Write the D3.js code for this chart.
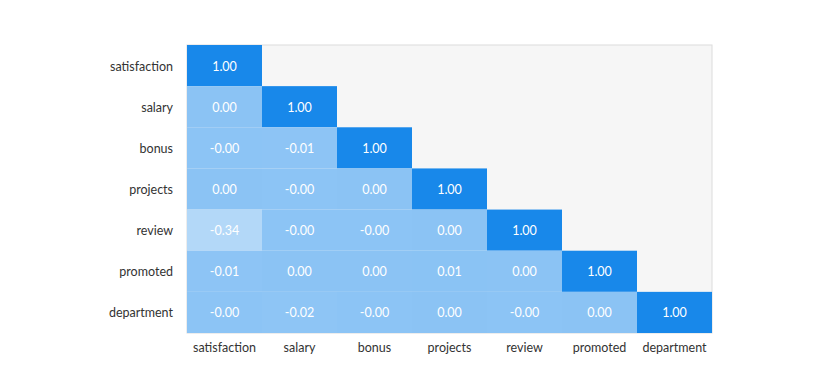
<!DOCTYPE html>
<html><head><meta charset="utf-8">
<script src="https://cdn.jsdelivr.net/npm/d3@7"></script>
<style>
html,body{margin:0;padding:0;background:#fff;}
svg{display:block;font-family:Lato,"Noto Sans",sans-serif;}
</style></head>
<body><svg id="c" width="816" height="375"></svg>
<script>
const variables = ["satisfaction","salary","bonus","projects","review","promoted","department"];
// lower-triangle correlation rows (row i has i+1 values)
const corrRows = [
  [1.00],
  [0.002, 1.00],
  [-0.002, -0.01, 1.00],
  [0.002, -0.002, 0.002, 1.00],
  [-0.34, -0.002, -0.002, 0.002, 1.00],
  [-0.01, 0.003, 0.002, 0.01, 0.002, 1.00],
  [-0.002, -0.02, -0.002, 0.002, -0.002, 0.002, 1.00]
];
const colorDomain = [-1, 1];

const svg = d3.select("#c");
const m = {left:187, top:45, right:816-712, bottom:375-333};
const W = 816 - m.left - m.right, H = 375 - m.top - m.bottom;
const g = svg.append("g").attr("transform",`translate(${m.left},${m.top})`);

const x = d3.scaleBand().domain(variables).range([0,W]);
const y = d3.scaleBand().domain(variables).range([0,H]);
const color = d3.scaleLinear().domain(colorDomain).range(["#ffffff","#1888ea"]).interpolate(d3.interpolateRgb);

g.append("rect").attr("width",W).attr("height",H).attr("fill","#f6f6f6").attr("stroke","#dcdcdc").attr("stroke-width",1);

const cells = [];
corrRows.forEach((row,i)=>row.forEach((v,j)=>cells.push({r:variables[i],c:variables[j],v})));

g.selectAll("rect.cell").data(cells).join("rect").attr("class","cell")
  .attr("x",d=>x(d.c)).attr("y",d=>y(d.r))
  .attr("width",x.bandwidth()).attr("height",y.bandwidth())
  .attr("fill",d=>color(d.v));

g.selectAll("text.val").data(cells).join("text").attr("class","val")
  .attr("x",d=>x(d.c)+x.bandwidth()/2).attr("y",d=>y(d.r)+y.bandwidth()/2+0.5)
  .attr("text-anchor","middle").attr("dominant-baseline","central")
  .attr("fill","#ffffff").attr("font-size",12.5)
  .text(d=>d.v.toFixed(2));

const xa = g.append("g").attr("transform",`translate(0,${H})`).call(d3.axisBottom(x).tickSize(0).tickPadding(10));
const ya = g.append("g").attr("transform","translate(0,1)").call(d3.axisLeft(y).tickSize(0).tickPadding(14));
[xa,ya].forEach(a=>{a.select(".domain").remove();a.selectAll("text").attr("font-size",12.5).attr("fill","#333").attr("font-family","Lato,'Noto Sans',sans-serif");});
</script></body></html>
